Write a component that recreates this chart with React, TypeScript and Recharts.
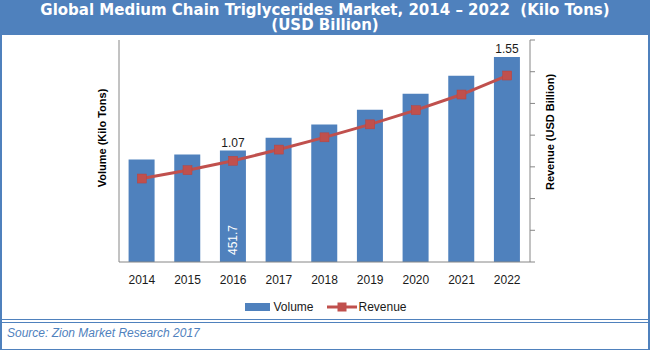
import { Bar, ComposedChart, LabelList, Line, XAxis, YAxis } from "recharts"

const years = ["2014", "2015", "2016", "2017", "2018", "2019", "2020", "2021", "2022"]
const volume = [416, 436, 451.7, 504, 557, 617, 682, 755, 831]
const revenue = [0.97, 1.017, 1.07, 1.133, 1.202, 1.275, 1.355, 1.443, 1.55]
// years whose values are printed on the chart
const revenueLabelYears = ["2016", "2022"]
const volumeLabelYears = ["2016"]

const BLUE = "#4f81bd"
const RED = "#c0504d"
const FONT = "'Liberation Sans', Arial, sans-serif"
const TITLE_FONT = "'DejaVu Sans', Verdana, sans-serif"

const data = years.map((y, i) => ({ year: y, volume: volume[i], revenue: revenue[i] }))

const revMin = 0.5
const revMax = 1.75
const revTicks = Array.from({ length: 8 }, (_, i) => revMin + ((revMax - revMin) * i) / 7)

function SquareDot(props: any) {
  const { cx, cy } = props
  if (cx == null || cy == null) return <g />
  return <rect x={cx - 4.5} y={cy - 4.5} width={9} height={9} fill={RED} stroke="#b9433f" strokeWidth={0.5} />
}

function BarLabels(props: any) {
  const { x, y, width, height, index } = props
  const d = data[index]
  if (!d) return <g />
  const cx = x + width / 2
  return (
    <g>
      {revenueLabelYears.includes(d.year) && (
        <text x={cx} y={y - 4} textAnchor="middle" fontSize={12} fontFamily={FONT} fill="#1a1a1a">
          {d.revenue.toFixed(2)}
        </text>
      )}
      {volumeLabelYears.includes(d.year) && (
        <text
          x={cx}
          y={y + height - 22}
          textAnchor="middle"
          dominantBaseline="central"
          fontSize={12}
          fontFamily={FONT}
          fill="#fff"
          transform={`rotate(-90 ${cx} ${y + height - 22})`}
        >
          {d.volume}
        </text>
      )}
    </g>
  )
}

function LegendBox() {
  return (
    <div
      style={{
        display: "flex",
        justifyContent: "center",
        alignItems: "center",
        fontFamily: FONT,
        fontSize: 12,
        color: "#1a1a1a",
        paddingLeft: 2,
      }}
    >
      <span style={{ width: 25, height: 8, background: BLUE, display: "inline-block", marginRight: 3 }} />
      <span style={{ marginRight: 14 }}>Volume</span>
      <svg width={30} height={10} style={{ marginRight: 1 }}>
        <line x1={0} y1={5} x2={30} y2={5} stroke={RED} strokeWidth={3} />
        <rect x={10.5} y={0.5} width={9} height={9} fill={RED} />
      </svg>
      <span>Revenue</span>
    </div>
  )
}

export default function App() {
  return (
    <div
      style={{
        position: "absolute",
        left: 0,
        top: 0,
        width: 650,
        height: 350,
        background: "#fff",
        overflow: "hidden",
        fontFamily: FONT,
      }}
    >
      <div style={{ position: "absolute", left: 0, top: 0 }}>
        <ComposedChart
          width={650}
          height={319}
          data={data}
          margin={{ top: 40, right: 70, bottom: 27, left: 109 }}
          barCategoryGap="21%"
        >
          <XAxis
            dataKey="year"
            height={30}
            tickLine={false}
            axisLine={{ stroke: "#868686" }}
            tickMargin={7}
            tick={{ fontSize: 12, fill: "#1a1a1a", fontFamily: FONT }}
          />
          <YAxis
            yAxisId="left"
            width={10}
            domain={[0, 900]}
            tick={() => <g />}
            tickLine={false}
            axisLine={{ stroke: "#868686" }}
          />
          <YAxis
            yAxisId="right"
            orientation="right"
            width={50}
            domain={[revMin, revMax]}
            ticks={revTicks}
            interval={0}
            tick={() => <g />}
            tickSize={5}
            tickLine={{ stroke: "#868686" }}
            axisLine={{ stroke: "#868686" }}
          />
          <Bar yAxisId="left" dataKey="volume" name="Volume" fill={BLUE} isAnimationActive={false}>
            <LabelList content={BarLabels} />
          </Bar>
          <Line
            yAxisId="right"
            dataKey="revenue"
            name="Revenue"
            type="linear"
            stroke={RED}
            strokeWidth={3}
            dot={<SquareDot />}
            activeDot={false}
            isAnimationActive={false}
          />
        </ComposedChart>
      </div>

      <div style={{ position: "absolute", left: 0, top: 300, width: 650 }}>
        <LegendBox />
      </div>

      {/* axis titles */}
      <div
        style={{
          position: "absolute",
          left: 102,
          top: 138,
          transform: "translate(-50%, -50%) rotate(-90deg)",
          whiteSpace: "nowrap",
          fontSize: 11,
          fontWeight: 700,
          color: "#000",
        }}
      >
        Volume (Kilo Tons)
      </div>
      <div
        style={{
          position: "absolute",
          left: 550,
          top: 132,
          transform: "translate(-50%, -50%) rotate(-90deg)",
          whiteSpace: "nowrap",
          fontSize: 11,
          fontWeight: 700,
          color: "#000",
        }}
      >
        Revenue (USD Billion)
      </div>

      {/* title band */}
      <div
        style={{
          position: "absolute",
          left: 0,
          top: 0,
          width: 650,
          height: 35,
          background: BLUE,
          color: "#fff",
          fontFamily: TITLE_FONT,
          fontWeight: 700,
          fontSize: 15,
          lineHeight: "15px",
          textAlign: "center",
          paddingTop: 3,
          boxSizing: "border-box",
          whiteSpace: "pre",
        }}
      >
        {"Global Medium Chain Triglycerides Market, 2014 \u2013 2022  (Kilo Tons)\n(USD Billion)"}
      </div>

      {/* frame and separators */}
      <div
        style={{
          position: "absolute",
          left: 0,
          top: 0,
          width: 650,
          height: 351,
          border: `2px solid ${BLUE}`,
          boxSizing: "border-box",
          pointerEvents: "none",
        }}
      />
      <div style={{ position: "absolute", left: 0, top: 319, width: 650, height: 1, background: BLUE }} />
      <div style={{ position: "absolute", left: 0, top: 322, width: 650, height: 1, background: BLUE }} />

      <div
        style={{
          position: "absolute",
          left: 7,
          top: 325,
          fontSize: 12,
          fontStyle: "italic",
          color: BLUE,
          lineHeight: "16px",
        }}
      >
        Source: Zion Market Research 2017
      </div>
    </div>
  )
}
